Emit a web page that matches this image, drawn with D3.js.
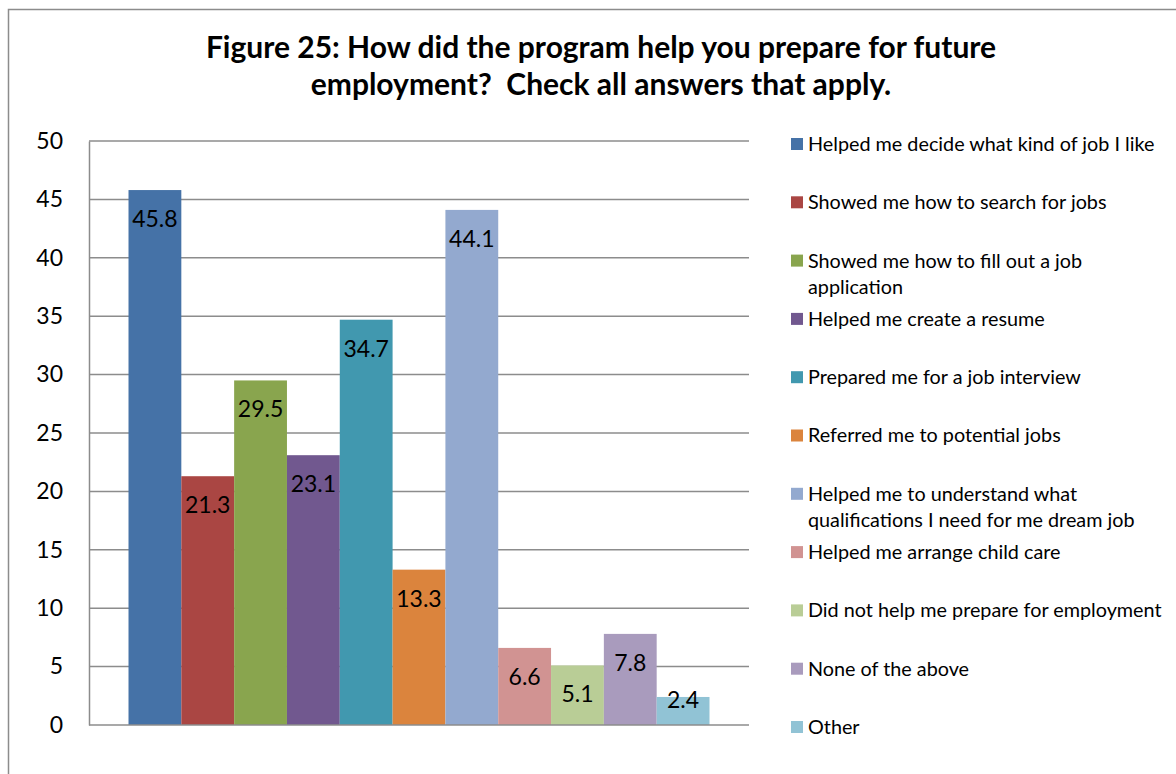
<!DOCTYPE html>
<meta charset="utf-8">
<style>
  body { margin: 0; background: #fff; }
  text { font-family: Lato, "Open Sans", sans-serif; fill: #000; }
</style>
<script src="https://d3js.org/d3.v7.min.js"></script>
<div id="chart"></div>
<script>
// data
var categories = [
  "Helped me decide what kind of job I like",
  "Showed me how to search for jobs",
  "Showed me how to fill out a job application",
  "Helped me create a resume",
  "Prepared me for a job interview",
  "Referred me to potential jobs",
  "Helped me to understand what qualifications I need for me dream job",
  "Helped me arrange child care",
  "Did not help me prepare for employment",
  "None of the above",
  "Other"
];
var values = [45.8, 21.3, 29.5, 23.1, 34.7, 13.3, 44.1, 6.6, 5.1, 7.8, 2.4];
var colors = ["#4572A7", "#AA4643", "#89A54E", "#71588F", "#4198AF", "#DB843D",
              "#93A9CF", "#D19392", "#B9CD96", "#A99BBD", "#91C3D5"];
var yTicks = [0, 5, 10, 15, 20, 25, 30, 35, 40, 45, 50];
var titleLines = ["Figure 25: How did the program help you prepare for future",
                  "employment?  Check all answers that apply."];

var W = 1176, H = 774;
var plot = {left: 89, top: 141, right: 749, bottom: 725};

var svg = d3.select("#chart").append("svg")
  .attr("width", W).attr("height", H);

// chart border
svg.append("rect")
  .attr("x", 8.5).attr("y", 9.5)
  .attr("width", W + 20).attr("height", H + 20)
  .attr("fill", "none").attr("stroke", "#8c8c8c").attr("stroke-width", 1.5);

// title
svg.append("text")
  .attr("x", 601).attr("y", 58)
  .attr("text-anchor", "middle")
  .style("font-size", "30px").style("font-weight", "bold")
  .style("white-space", "pre")
  .selectAll("tspan").data(titleLines).enter().append("tspan")
    .attr("x", 601).attr("dy", function(d, i) { return i ? 37 : 0; })
    .text(function(d) { return d; });

var y = d3.scaleLinear().domain([0, 50]).range([plot.bottom, plot.top]);

// one category group, bars side by side inside it
var group = d3.scaleBand().domain(["all"]).range([plot.left, plot.right]).paddingOuter(0.068).paddingInner(0);
var x = d3.scaleBand().domain(d3.range(values.length))
  .range([group("all"), group("all") + group.bandwidth()]);

// gridlines
svg.append("g").selectAll("line").data(yTicks.slice(1)).enter().append("line")
  .attr("x1", plot.left).attr("x2", plot.right)
  .attr("y1", function(d) { return y(d); }).attr("y2", function(d) { return y(d); })
  .attr("stroke", "#8c8c8c").attr("stroke-width", 1.5);

// y axis
var yAxis = svg.append("g")
  .attr("transform", "translate(" + plot.left + ",0)")
  .call(d3.axisLeft(y).tickValues(yTicks).tickSize(0).tickPadding(26));
yAxis.select(".domain").attr("stroke", "#8c8c8c").attr("stroke-width", 1.5);
yAxis.selectAll("text").style("font-size", "23px").style("font-family", "Lato, sans-serif").attr("fill", "#000");

// bars
svg.append("g").selectAll("rect").data(values).enter().append("rect")
  .attr("x", function(d, i) { return x(i); })
  .attr("y", function(d) { return y(d); })
  .attr("width", x.bandwidth())
  .attr("height", function(d) { return y(0) - y(d); })
  .attr("fill", function(d, i) { return colors[i]; });

// x axis baseline
svg.append("line")
  .attr("x1", plot.left).attr("x2", plot.right)
  .attr("y1", y(0)).attr("y2", y(0))
  .attr("stroke", "#8c8c8c").attr("stroke-width", 1.5);

// data labels (inside end)
svg.append("g").selectAll("text").data(values).enter().append("text")
  .attr("x", function(d, i) { return x(i) + x.bandwidth() / 2; })
  .attr("y", function(d) { return Math.min(y(d) + 29, y(0) - 25); })
  .attr("dy", "0.35em")
  .attr("text-anchor", "middle")
  .style("font-size", "23px")
  .text(function(d) { return d.toFixed(1); });

// legend
var ly = d3.scalePoint().domain(d3.range(categories.length)).range([144, 727]);
var legend = svg.append("g").selectAll("g").data(categories).enter().append("g")
  .attr("transform", function(d, i) { return "translate(791," + ly(i) + ")"; });
legend.append("rect")
  .attr("x", 0).attr("y", -6).attr("width", 12).attr("height", 12)
  .attr("fill", function(d, i) { return colors[i]; });
legend.append("text")
  .attr("x", 17).attr("y", 0)
  .style("font-size", "19.8px")
  .each(function(d) {
    var t = d3.select(this), words = d.split(" "), line = [];
    var tspan = t.append("tspan").attr("x", 17).attr("dy", "0.35em");
    words.forEach(function(w) {
      line.push(w);
      tspan.text(line.join(" "));
      if (tspan.node().getComputedTextLength() > 358 && line.length > 1) {
        line.pop();
        tspan.text(line.join(" "));
        line = [w];
        tspan = t.append("tspan").attr("x", 17).attr("dy", "26px").text(w);
      }
    });
  });
</script>
